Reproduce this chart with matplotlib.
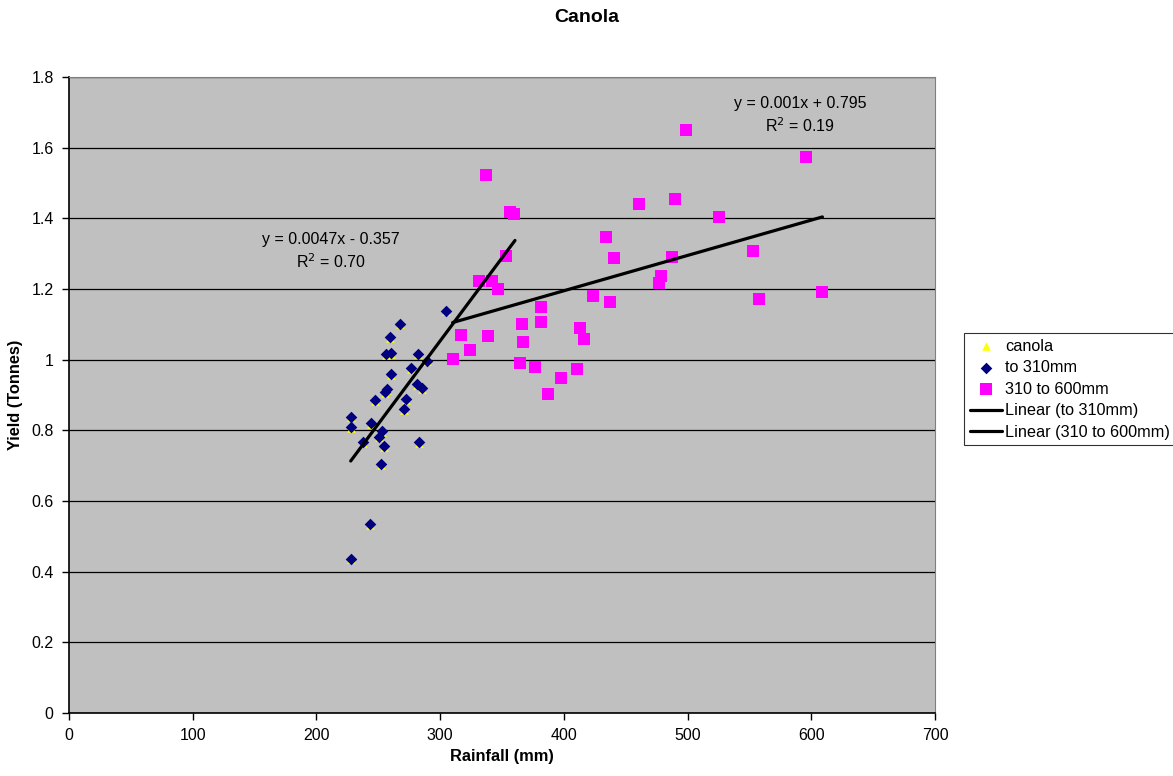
import matplotlib.pyplot as plt
import numpy as np

plt.rcParams['font.family'] = ['Liberation Sans', 'DejaVu Sans']

# rainfall (mm) and yield (t) up to 310mm
low_x = [305.1, 267.3, 259.5, 256.2, 260.3, 282.4, 289.1, 276.2, 260.0, 281.0,
         285.1, 257.3, 255.7, 247.4, 272.2, 270.8, 227.7, 227.7, 243.9, 253.3,
         250.8, 237.9, 254.9, 283.2, 252.2, 243.1, 227.7]
low_y = [1.139, 1.102, 1.064, 1.016, 1.018, 1.017, 0.997, 0.976, 0.959, 0.930,
         0.919, 0.917, 0.909, 0.886, 0.889, 0.860, 0.839, 0.810, 0.820, 0.798,
         0.782, 0.766, 0.756, 0.766, 0.705, 0.534, 0.437]

# 310 to 600mm
high_x = [337.3, 356.5, 360.0, 353.5, 331.7, 341.7, 346.5, 316.6, 338.9, 324.1,
          310.4, 381.3, 381.5, 365.9, 366.7, 364.3, 376.7, 386.9, 397.4, 410.3,
          413.1, 416.0, 423.6, 437.6, 440.8, 434.1, 460.5, 478.5, 477.2, 487.4,
          490.1, 499.0, 595.8, 525.2, 553.2, 557.8, 608.5]
high_y = [1.523, 1.417, 1.412, 1.294, 1.223, 1.223, 1.200, 1.070, 1.066, 1.027,
          1.003, 1.150, 1.107, 1.100, 1.050, 0.991, 0.980, 0.904, 0.949, 0.973,
          1.091, 1.059, 1.180, 1.162, 1.288, 1.348, 1.440, 1.237, 1.218, 1.291,
          1.455, 1.651, 1.575, 1.404, 1.308, 1.173, 1.192]

# trendlines as printed on the chart
low_fit = (0.0047, -0.357)
low_range = [227.7, 360.5]
high_fit = (0.001, 0.795)
high_range = [310.1, 609.0]

fig = plt.figure(figsize=(11.73, 7.76), dpi=100)
ax = fig.add_axes([69/1173, 1-713/776, 866/1173, 636/776])
ax.set_facecolor('#C0C0C0')

# canola = every point, drawn underneath the two split series
all_x = low_x + high_x
all_y = low_y + high_y
ax.scatter(all_x, [v - 0.002 for v in all_y], marker='^', s=38, color='#FFFF00',
           linewidths=0, zorder=3, label='canola')
ax.scatter(low_x, low_y, marker='D', s=35, color='#000080', linewidths=0,
           zorder=4, label='to 310mm')
ax.scatter(high_x, high_y, marker='s', s=64, color='#FF00FF', linewidths=0,
           zorder=4, label='310 to 600mm')

lx = np.array(low_range)
ax.plot(lx, low_fit[0]*lx + low_fit[1], color='black', lw=2.3, zorder=5,
        solid_capstyle='round', label='Linear (to 310mm)')
hx = np.array(high_range)
ax.plot(hx, high_fit[0]*hx + high_fit[1], color='black', lw=2.3, zorder=5,
        solid_capstyle='round', label='Linear (310 to 600mm)')

ax.text(212, 1.306, 'y = 0.0047x - 0.357\nR$^2$ = 0.70', ha='center', va='center',
        fontsize=11.5, linespacing=1.35)
ax.text(591, 1.692, 'y = 0.001x + 0.795\nR$^2$ = 0.19', ha='center', va='center',
        fontsize=11.5, linespacing=1.35)

ax.set_xlim(0, 700)
ax.set_ylim(0, 1.8)
ax.set_xticks(np.arange(0, 701, 100))
ax.set_yticks(np.arange(0, 1.81, 0.2))
ax.set_yticklabels(['0', '0.2', '0.4', '0.6', '0.8', '1', '1.2', '1.4', '1.6', '1.8'])
ax.yaxis.grid(True, color='black', lw=0.9)
ax.set_axisbelow(True)
ax.tick_params(direction='out', length=5, width=1, labelsize=11.5, pad=6)
for s in ['top', 'right']:
    ax.spines[s].set_color('#808080')
for s in ['left', 'bottom']:
    ax.spines[s].set_color('black')
    ax.spines[s].set_linewidth(1.2)

ax.set_xlabel('Rainfall (mm)', fontsize=11.8, fontweight='bold', labelpad=4)
ax.set_ylabel('Yield (Tonnes)', fontsize=11.8, fontweight='bold', labelpad=6)
fig.text(587/1173, 1-17/776, 'Canola', ha='center', va='center', fontsize=14,
         fontweight='bold')

leg = ax.legend(loc='upper left', bbox_to_anchor=(964/1173, 1-333/776),
                bbox_transform=fig.transFigure, fontsize=11.7, frameon=True,
                fancybox=False, edgecolor='black', borderpad=0.35,
                handlelength=2.0, handletextpad=0.2, labelspacing=0.4,
                borderaxespad=0)
leg.get_frame().set_linewidth(0.8)

fig.savefig('out.png', dpi=100)
